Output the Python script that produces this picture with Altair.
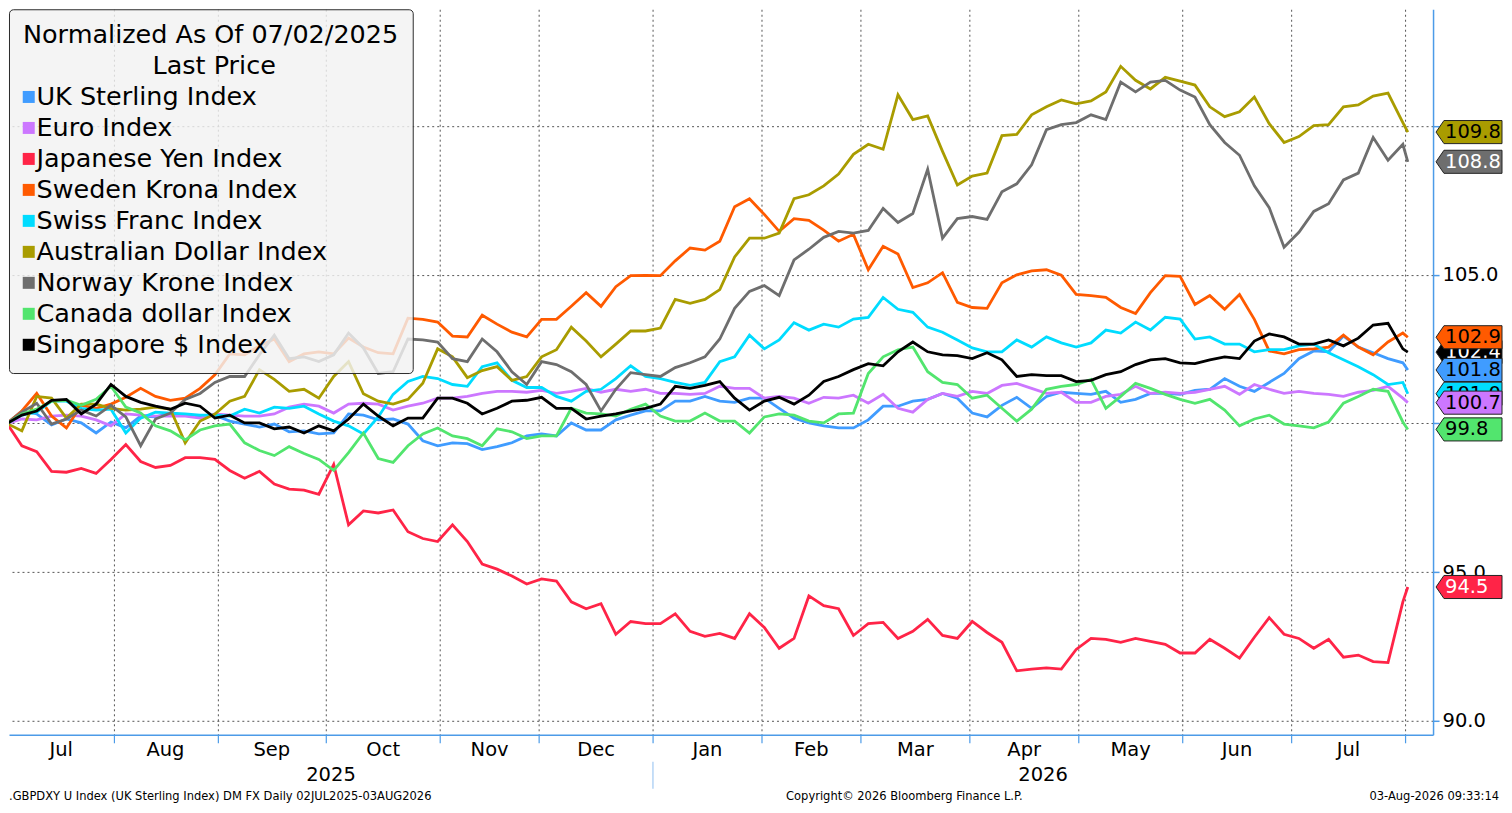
import altair as alt
import numpy as np
import pandas as pd

# ---------------- data ----------------
START_DATE = "2025-07-02"
END_DATE = "2026-08-03"
SAMPLE_STEP = 3  # one reading every 3 trading days, plus the last day

SERIES = ["UK Sterling Index", "Euro Index", "Japanese Yen Index", "Sweden Krona Index",
          "Swiss Franc Index", "Australian Dollar Index", "Norway Krone Index",
          "Canada dollar Index", "Singapore $ Index"]
COLORS = ["#409cff", "#cc77ff", "#ff2447", "#ff5a00", "#00dcff",
          "#a99c00", "#6e6e6e", "#52e56e", "#000000"]
TAG_TEXT_COLORS = ["black", "black", "white", "black", "black",
                   "black", "white", "black", "white"]

UK_STERLING = [100.0, 100.42, 100.32, 99.95, 100.15, 100.02, 99.68, 100.05, 99.85, 100.25,
               100.22, 100.35, 100.28, 100.25, 100.28, 100.08, 99.98, 99.88, 99.98, 99.72,
               99.75, 99.65, 99.68, 100.32, 100.28, 100.12, 100.15, 99.98, 99.42, 99.25,
               99.35, 99.32, 99.12, 99.22, 99.35, 99.58, 99.65, 99.58, 100.02, 99.78,
               99.78, 100.12, 100.28, 100.42, 100.42, 100.75, 100.75, 100.91, 100.75, 100.71,
               100.85, 100.85, 100.51, 100.18, 100.02, 99.92, 99.85, 99.85, 100.12, 100.58,
               100.58, 100.75, 100.81, 101.01, 100.85, 100.35, 100.22, 100.61, 100.88, 100.51,
               100.91, 101.05, 101.01, 100.98, 101.08, 100.71, 100.81, 101.01, 101.01, 100.98,
               101.11, 101.15, 101.51, 101.25, 101.08, 101.38, 101.68, 102.18, 102.44, 102.41,
               102.94, 102.57, 102.38, 102.18, 102.04, 101.8]
EURO = [100.0, 100.15, 100.12, 100.25, 100.28, 100.25, 100.12, 99.92, 100.32, 100.28,
        100.25, 100.25, 100.25, 100.18, 100.32, 100.28, 100.25, 100.25, 100.32, 100.55,
        100.65, 100.58, 100.35, 100.65, 100.68, 100.65, 100.45, 100.58, 100.68, 100.85,
        100.85, 100.91, 101.01, 101.08, 101.08, 101.05, 101.11, 101.01, 101.08, 101.18,
        101.05, 101.15, 101.08, 101.15, 101.01, 101.01, 100.98, 101.01, 101.25, 101.18,
        101.18, 100.85, 100.91, 100.85, 100.68, 100.88, 100.85, 100.95, 100.68, 100.98,
        100.51, 100.38, 100.81, 101.01, 100.91, 101.08, 101.01, 101.28, 101.35, 101.18,
        101.01, 101.05, 100.71, 100.71, 100.91, 100.98, 101.25, 101.01, 101.05, 101.01,
        101.05, 101.15, 101.25, 100.98, 101.31, 101.15, 101.01, 101.08, 101.01, 100.98,
        100.91, 101.05, 101.11, 101.25, 100.85, 100.7]
YEN = [100.0, 99.25, 99.05, 98.39, 98.36, 98.49, 98.32, 98.79, 99.29, 98.72,
       98.52, 98.59, 98.85, 98.85, 98.79, 98.42, 98.16, 98.39, 97.96, 97.79,
       97.76, 97.62, 98.62, 96.59, 97.06, 96.99, 97.09, 96.36, 96.13, 96.03,
       96.59, 96.03, 95.27, 95.1, 94.87, 94.6, 94.77, 94.7, 94.0, 93.77,
       93.94, 92.91, 93.34, 93.27, 93.27, 93.6, 93.01, 92.84, 92.94, 92.77,
       93.6, 93.14, 92.44, 92.77, 94.2, 93.87, 93.77, 92.87, 93.27, 93.31,
       92.77, 93.01, 93.41, 92.87, 92.77, 93.34, 92.97, 92.64, 91.68, 91.74,
       91.78, 91.74, 92.4, 92.77, 92.74, 92.64, 92.77, 92.67, 92.57, 92.28,
       92.28, 92.74, 92.44, 92.11, 92.81, 93.47, 92.91, 92.77, 92.44, 92.74,
       92.14, 92.21, 91.99, 91.96, 94.0, 94.5]
SWEDEN = [100.0, 100.42, 101.01, 100.25, 99.85, 100.61, 100.51, 100.65, 100.88, 101.18,
          100.91, 100.78, 100.85, 101.18, 101.64, 102.34, 102.31, 102.61, 102.84, 102.08,
          102.34, 102.41, 102.34, 102.87, 102.57, 102.38, 102.34, 103.54, 103.5, 103.41,
          102.94, 102.91, 103.64, 103.34, 103.07, 102.91, 103.5, 103.5, 103.94, 104.4,
          103.94, 104.6, 104.97, 104.98, 104.97, 105.47, 105.9, 105.83, 106.13, 107.29,
          107.56, 107.03, 106.46, 106.89, 106.83, 106.5, 106.13, 106.36, 105.17, 105.96,
          105.7, 104.57, 104.73, 105.07, 104.07, 103.9, 103.87, 104.73, 105.0, 105.13,
          105.17, 104.99, 104.34, 104.3, 104.24, 103.9, 103.7, 104.4, 104.97, 104.95,
          104.0, 104.3, 103.84, 104.34, 103.5, 102.44, 102.34, 102.48, 102.51, 102.57,
          102.97, 102.57, 102.31, 102.74, 103.04, 102.9]
SWISS = [100.0, 100.28, 100.38, 100.75, 100.75, 100.51, 100.45, 100.48, 99.68, 100.18,
         100.38, 100.35, 100.32, 100.28, 100.28, 100.25, 100.48, 100.35, 100.55, 100.51,
         100.58, 100.32, 100.08, 99.92, 99.65, 100.22, 100.98, 101.41, 101.58, 101.51,
         101.31, 101.25, 101.91, 102.04, 101.45, 101.21, 101.21, 100.91, 100.75, 101.08,
         101.15, 101.51, 101.94, 101.58, 101.51, 101.38, 101.28, 101.38, 102.08, 102.24,
         102.97, 102.51, 102.81, 103.39, 103.14, 103.34, 103.24, 103.51, 103.57, 104.24,
         103.84, 103.74, 103.24, 103.07, 102.81, 102.54, 102.41, 102.41, 102.81, 102.57,
         102.91, 102.71, 102.57, 102.71, 103.14, 103.04, 103.41, 103.14, 103.57, 103.51,
         102.84, 102.91, 102.67, 102.67, 102.41, 102.48, 102.48, 102.61, 102.67, 102.38,
         102.14, 101.91, 101.64, 101.31, 101.38, 101.0]
AUSTRALIA = [100.0, 99.75, 100.91, 100.85, 100.18, 100.65, 100.65, 100.51, 100.45, 100.48,
             100.55, 100.48, 99.35, 100.08, 100.32, 100.75, 100.91, 101.81, 101.48, 101.08,
             101.15, 100.85, 101.58, 102.08, 101.0, 100.75, 100.65, 100.81, 101.35, 102.51,
             102.24, 101.54, 101.78, 101.91, 101.45, 101.58, 102.24, 102.48, 103.24, 102.77,
             102.24, 102.67, 103.11, 103.11, 103.21, 104.17, 104.04, 104.17, 104.5, 105.6,
             106.23, 106.23, 106.4, 107.56, 107.69, 107.99, 108.39, 109.05, 109.39, 109.22,
             111.05, 110.22, 110.34, 109.15, 108.02, 108.32, 108.42, 109.68, 109.72, 110.38,
             110.65, 110.88, 110.75, 110.85, 111.15, 112.01, 111.54, 111.25, 111.64, 111.51,
             111.38, 110.65, 110.32, 110.48, 110.98, 110.08, 109.45, 109.65, 110.02, 110.05,
             110.65, 110.71, 111.01, 111.11, 110.12, 109.8]
NORWAY = [100.0, 100.38, 100.68, 99.98, 100.15, 100.45, 100.25, 100.61, 100.22, 99.25,
          100.15, 100.35, 100.81, 101.01, 101.38, 101.58, 101.58, 102.31, 102.97, 102.18,
          102.24, 102.08, 102.31, 103.04, 102.54, 101.68, 101.74, 102.84, 102.81, 102.74,
          102.18, 102.08, 102.84, 102.41, 101.74, 101.31, 102.08, 101.98, 101.74, 101.31,
          100.42, 101.15, 101.71, 101.64, 101.58, 101.88, 102.04, 102.24, 102.84, 103.87,
          104.44, 104.64, 104.3, 105.5, 105.86, 106.26, 106.46, 106.4, 106.49, 107.23,
          106.76, 107.06, 108.55, 106.23, 106.89, 106.96, 106.86, 107.79, 108.06, 108.7,
          109.88, 110.05, 110.12, 110.38, 110.22, 111.48, 111.15, 111.48, 111.54, 111.21,
          110.98, 110.05, 109.45, 109.02, 107.99, 107.26, 105.93, 106.43, 107.13, 107.39,
          108.19, 108.42, 109.62, 108.85, 109.39, 108.8]
CANADA = [100.0, 100.32, 100.48, 100.75, 100.78, 100.61, 100.81, 101.25, 100.55, 100.35,
          99.92, 99.75, 99.45, 99.78, 99.92, 99.98, 99.35, 99.09, 98.92, 99.22,
          98.99, 98.79, 98.42, 99.02, 99.68, 98.82, 98.69, 99.25, 99.65, 99.85,
          99.58, 99.49, 99.25, 99.82, 99.72, 99.49, 99.58, 99.58, 100.51, 100.35,
          100.32, 100.25, 100.48, 100.65, 100.25, 100.08, 100.08, 100.35, 100.08, 100.08,
          99.68, 100.22, 100.32, 100.28, 100.08, 100.02, 100.32, 100.35, 101.68, 102.24,
          102.48, 102.57, 101.74, 101.38, 101.31, 100.85, 100.95, 100.51, 100.08, 100.48,
          101.15, 101.25, 101.31, 101.48, 100.51, 100.91, 101.35, 101.18, 100.98, 100.81,
          100.68, 100.81, 100.45, 99.92, 100.15, 100.28, 99.98, 99.92, 99.85, 100.05,
          100.68, 100.91, 101.15, 101.08, 100.05, 99.8]
SINGAPORE = [100.0, 100.28, 100.42, 100.78, 100.81, 100.32, 100.65, 101.31, 100.91, 100.71,
             100.58, 100.48, 100.68, 100.58, 100.18, 100.28, 100.02, 100.02, 99.82, 99.88,
             99.68, 99.92, 99.75, 100.15, 100.65, 100.25, 99.92, 100.18, 100.18, 100.85,
             100.85, 100.68, 100.32, 100.51, 100.75, 100.78, 100.88, 100.51, 100.51, 100.15,
             100.25, 100.32, 100.42, 100.51, 100.65, 101.25, 101.18, 101.28, 101.41, 100.85,
             100.45, 100.75, 100.88, 100.65, 100.95, 101.41, 101.58, 101.81, 102.01, 101.94,
             102.41, 102.74, 102.41, 102.31, 102.28, 102.18, 102.38, 102.14, 101.58, 101.64,
             101.61, 101.61, 101.41, 101.45, 101.64, 101.74, 101.98, 102.14, 102.18, 102.04,
             102.01, 102.14, 102.24, 102.18, 102.77, 103.01, 102.91, 102.67, 102.67, 102.81,
             102.61, 102.87, 103.31, 103.37, 102.51, 102.4]

SERIES_VALUES = [UK_STERLING, EURO, YEN, SWEDEN, SWISS, AUSTRALIA, NORWAY, CANADA, SINGAPORE]

LEGEND_TITLE = "Normalized As Of 07/02/2025"
LEGEND_SUBTITLE = "Last Price"
Y_TICKS = [90, 95, 100, 105, 110]
FOOTER_LEFT = ".GBPDXY U Index (UK Sterling Index) DM FX Daily 02JUL2025-03AUG2026"
FOOTER_MID = "Copyright\u00a9 2026 Bloomberg Finance L.P."
FOOTER_RIGHT = "03-Aug-2026 09:33:14"

# ---------------- layout / style ----------------
W, H = 1425, 726
FONT = "DejaVu Sans"
AXIS_BLUE = "#4c9be8"
GRID = "#555555"
TAG_W = 66

days = pd.bdate_range(START_DATE, END_DATE)      # trading-day axis (weekdays)
n = len(days)
sample_idx = list(range(0, n - 1, SAMPLE_STEP)) + [n - 1]
for vals in SERIES_VALUES:
    assert len(vals) == len(sample_idx)

X0, X1 = 0.4, n - 1 + 5.1
KEYS = [f"s{k}" for k in range(len(SERIES))]

rows = []
for key, name, vals in zip(KEYS, SERIES, SERIES_VALUES):
    for k, i in enumerate(sample_idx):
        rows.append({"t": i, "date": days[i].strftime("%Y-%m-%d"),
                     "key": key, "series": name, "value": vals[k]})
df = pd.DataFrame(rows)

# one row per series, only used to build the legend (point lies outside the clipped plot)
legend_df = pd.DataFrame({"name": SERIES, "t": [X0 - 50] * len(SERIES),
                          "value": [100.0] * len(SERIES)})

# month boundaries / labels
periods = days.to_period("M")
boundaries, month_rows = [], []
for p in periods.unique():
    pos = np.where(periods == p)[0]
    first, last = int(pos[0]), int(pos[-1])
    if first > 0:
        boundaries.append(first - 0.5)
    if last - first >= 4:
        lo, hi = max(first - 0.5, X0), min(last + 0.5, X1)
        month_rows.append({"t": (lo + hi) / 2, "label": p.strftime("%b")})
month_df = pd.DataFrame(month_rows)

years = sorted(set(days.year))
year_rows, sep_rows = [], []
for k, yr in enumerate(years):
    pos = np.where(days.year == yr)[0]
    lo = max(pos[0] - 0.5, X0)
    hi = pos[-1] + 0.5 if k < len(years) - 1 else X1
    year_rows.append({"t": (lo + hi) / 2, "label": str(yr)})
    if k > 0:
        sep_rows.append({"t": pos[0] - 0.5})
year_df = pd.DataFrame(year_rows)
sep_df = pd.DataFrame(sep_rows)

xscale = alt.Scale(domain=[X0, X1], nice=False, zero=False)
yscale = alt.Scale(domain=[89.53, 113.93], nice=False, zero=False)

x_enc = alt.X("t:Q", scale=xscale,
              axis=alt.Axis(values=boundaries, labels=False, title=None, grid=True,
                            gridColor=GRID, gridDash=[2, 3], gridWidth=1,
                            domainColor=AXIS_BLUE, domainWidth=1.5,
                            tickColor=AXIS_BLUE, tickSize=8, tickWidth=1.2))
y_enc = alt.Y("value:Q", scale=yscale,
              axis=alt.Axis(orient="right", values=Y_TICKS, title=None,
                            labelExpr="(datum.value == 100 || datum.value == 110) ? '' : format(datum.value, '.1f')",
                            grid=True, gridColor=GRID, gridDash=[2, 3], gridWidth=1,
                            domainColor=AXIS_BLUE, domainWidth=1.5,
                            tickColor=AXIS_BLUE, tickSize=6, tickWidth=1.5,
                            labelFont=FONT, labelFontSize=19.5, labelColor="black",
                            labelPadding=3))

NBSP = "\u00a0"
legend = alt.Legend(
    title=[LEGEND_TITLE, "\u200b" + NBSP * 16 + LEGEND_SUBTITLE],
    orient="top-left", offset=0, padding=14,
    fillColor="rgba(242,242,242,0.82)", strokeColor="#2b2b2b", cornerRadius=4,
    titleFont=FONT, titleFontSize=25.5, titleFontWeight="normal", titleColor="black",
    titleLineHeight=31, titlePadding=4.5, titleLimit=700,
    titleAnchor="start", titleAlign="left",
    labelFont=FONT, labelFontSize=25.5, labelColor="black", labelLimit=700,
    labelOffset={"expr": "-5"}, symbolOffset={"expr": "-7"},
    symbolType="square", symbolSize=144, symbolStrokeWidth=0, symbolOpacity=1,
    rowPadding=4,
)

lines = alt.Chart(df).mark_line(strokeWidth=2.8, clip=True).encode(
    x=x_enc, y=y_enc,
    stroke=alt.Stroke("key:N", scale=alt.Scale(domain=KEYS, range=COLORS), legend=None),
)

# clipped-away points: they only carry the legend (filled squares)
legend_layer = alt.Chart(legend_df).mark_point(filled=True, size=1, clip=True).encode(
    x=x_enc, y=y_enc,
    fill=alt.Fill("name:N", scale=alt.Scale(domain=SERIES, range=COLORS), legend=legend),
)

month_text = alt.Chart(month_df).mark_text(font=FONT, fontSize=19.5, color="black",
                                           align="center", baseline="middle").encode(
    x=x_enc, y=alt.value(H + 15), text="label:N")
year_text = alt.Chart(year_df).mark_text(font=FONT, fontSize=19.5, color="black",
                                         align="center", baseline="middle").encode(
    x=x_enc, y=alt.value(H + 40), text="label:N")
sep_rule = alt.Chart(sep_df).mark_rule(color="#8fbff0", strokeWidth=1).encode(
    x=x_enc, y=alt.value(H + 27), y2=alt.value(H + 54))

def footer(text, xpos, align):
    return alt.Chart(pd.DataFrame({"label": [text]})).mark_text(
        font=FONT, fontSize=11.5, color="black", align=align, baseline="middle"
    ).encode(x=alt.value(xpos), y=alt.value(H + 62), text="label:N")

footers = [footer(FOOTER_LEFT, 0, "left"),
           footer(FOOTER_MID, round(W * 0.6286), "center"),
           footer(FOOTER_RIGHT, W + TAG_W, "right")]

TAG_PATH = "M -1 0 L -0.76 -0.35 L 1 -0.35 L 1 0.35 L -0.76 0.35 Z"
tag_layers = []
for k in reversed(range(len(SERIES))):
    last_val = SERIES_VALUES[k][-1]
    tdf = pd.DataFrame({"value": [last_val], "label": [f"{last_val:.1f}"]})
    tag_layers.append(alt.Chart(tdf).mark_point(
        shape=TAG_PATH, size=TAG_W ** 2, filled=True, fill=COLORS[k], stroke="#222222",
        strokeWidth=1, opacity=1).encode(x=alt.value(W + 3 + TAG_W / 2), y=y_enc))
    tag_layers.append(alt.Chart(tdf).mark_text(
        font=FONT, fontSize=19.5, color=TAG_TEXT_COLORS[k], align="left",
        baseline="middle").encode(x=alt.value(W + 12), y=y_enc, text="label:N"))

chart = alt.layer(lines, legend_layer, month_text, year_text, sep_rule, *footers,
                  *tag_layers).properties(
    width=W, height=H,
    padding={"left": 0, "top": 0, "right": 0, "bottom": 0},
    background="white",
).configure_view(stroke=None)

chart.save("out.html", embed_options={"renderer": "svg", "actions": False})
